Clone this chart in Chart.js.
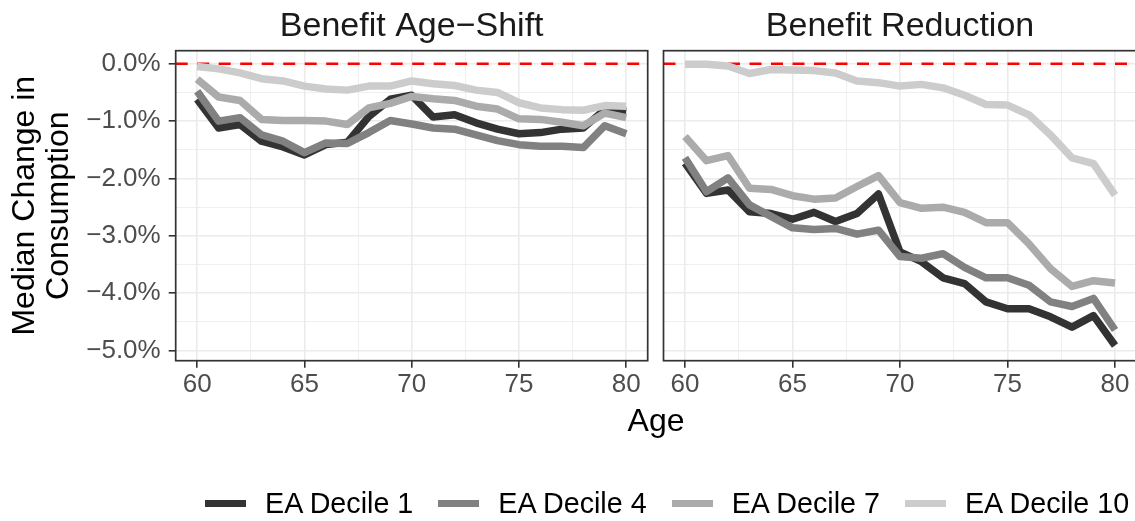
<!DOCTYPE html>
<html>
<head>
<meta charset="utf-8">
<script src="https://cdn.jsdelivr.net/npm/chart.js@4.4.0/dist/chart.umd.min.js"></script>
<style>
  html, body { margin: 0; padding: 0; background: #fff; }
  body { width: 1135px; height: 521px; overflow: hidden; position: relative;
         font-family: "Liberation Sans", Arial, sans-serif; }
  canvas { position: absolute; top: 0; left: 0; }
  #age { position: absolute; left: 0; width: 1312px; top: 404px; text-align: center;
         font-size: 32px; line-height: 1; color: #000; }
  #legend { position: absolute; left: 205px; top: 489px; display: flex; align-items: center;
            font-size: 28.7px; line-height: 1; color: #000; white-space: nowrap; }
  .item { display: flex; align-items: center; margin-right: 25px; }
  .swatch { width: 41px; height: 7.5px; margin-right: 19px; }
</style>
</head>
<body>
<canvas id="shift" width="1135" height="521"></canvas>
<canvas id="reduction" width="1140" height="521"></canvas>
<div id="age">Age</div>
<div id="legend"></div>
<script>
// Ages on the horizontal axis
const ages = [60, 61, 62, 63, 64, 65, 66, 67, 68, 69, 70, 71, 72, 73, 74, 75, 76, 77, 78, 79, 80];

// Median change in consumption (%), benefit age-shift scenario
const shiftD1  = [-0.62, -1.12, -1.06, -1.35, -1.45, -1.59, -1.41, -1.37, -0.92, -0.62, -0.55, -0.93, -0.89, -1.03, -1.14, -1.22, -1.20, -1.14, -1.12, -0.80, -0.83];
const shiftD4  = [-0.48, -1.00, -0.94, -1.24, -1.35, -1.55, -1.38, -1.39, -1.20, -0.99, -1.05, -1.12, -1.14, -1.24, -1.34, -1.41, -1.44, -1.44, -1.46, -1.08, -1.22];
const shiftD7  = [-0.27, -0.58, -0.64, -0.97, -0.99, -0.99, -1.00, -1.06, -0.77, -0.69, -0.57, -0.61, -0.64, -0.74, -0.79, -0.96, -0.97, -1.02, -1.08, -0.86, -0.94];
const shiftD10 = [-0.05, -0.09, -0.16, -0.26, -0.30, -0.39, -0.44, -0.46, -0.39, -0.39, -0.30, -0.35, -0.38, -0.46, -0.50, -0.68, -0.77, -0.80, -0.81, -0.73, -0.74];

// Median change in consumption (%), benefit reduction scenario
const reductD1  = [-1.73, -2.26, -2.20, -2.58, -2.61, -2.71, -2.59, -2.75, -2.61, -2.27, -3.28, -3.45, -3.73, -3.83, -4.15, -4.27, -4.27, -4.41, -4.59, -4.39, -4.91];
const reductD4  = [-1.64, -2.23, -1.99, -2.46, -2.66, -2.86, -2.89, -2.87, -2.97, -2.90, -3.36, -3.39, -3.31, -3.55, -3.73, -3.73, -3.86, -4.15, -4.23, -4.09, -4.64];
const reductD7  = [-1.27, -1.69, -1.60, -2.17, -2.19, -2.30, -2.36, -2.34, -2.14, -1.95, -2.42, -2.52, -2.50, -2.59, -2.77, -2.77, -3.14, -3.57, -3.88, -3.78, -3.82];
const reductD10 = [-0.01, -0.01, -0.04, -0.17, -0.10, -0.11, -0.12, -0.16, -0.30, -0.33, -0.39, -0.36, -0.42, -0.55, -0.71, -0.72, -0.89, -1.24, -1.64, -1.74, -2.29];

// Series names and grey ramp
const decileLabels = ['EA Decile 1', 'EA Decile 4', 'EA Decile 7', 'EA Decile 10'];
const decileColors = ['#333333', '#818181', '#ababab', '#cccccc'];

// Tick labels
const ageTicks = [60, 65, 70, 75, 80];
const pctTicks = [0, -1, -2, -3, -4, -5];

// Reference level (no change)
const refLevel = 0;

const X_MIN = 59, X_MAX = 81;
const Y_MIN = -5.175, Y_MAX = 0.227;

Chart.defaults.font.family = "'Liberation Sans', Arial, sans-serif";

const near = (a, b) => Math.abs(a - b) < 1e-6;
const isMajor = (list, v) => list.some(t => near(t, v));
const withMinors = list => {
  const out = [];
  const s = [...list].sort((a, b) => a - b);
  s.forEach((v, i) => { out.push(v); if (i < s.length - 1) out.push((v + s[i + 1]) / 2); });
  return out;
};
const fmtPct = v => (v < -1e-9 ? '\u2212' : '') + Math.abs(v).toFixed(1) + '%';

// Panel frame drawn over the plotted lines
const framePlugin = {
  id: 'frame',
  afterDatasetsDraw(chart) {
    const a = chart.chartArea, ctx = chart.ctx;
    ctx.save();
    ctx.strokeStyle = '#333333';
    ctx.lineWidth = 1.7;
    ctx.strokeRect(a.left, a.top, a.right - a.left, a.bottom - a.top);
    ctx.restore();
  }
};

function makeDatasets(series) {
  const sets = series.map((vals, i) => ({
    label: decileLabels[i],
    data: ages.map((a, j) => ({ x: a, y: vals[j] })),
    borderColor: decileColors[i],
    backgroundColor: decileColors[i],
    borderWidth: 7.5,
    borderCapStyle: 'butt',
    borderJoinStyle: 'round',
    pointRadius: 0,
    tension: 0,
    fill: false,
    order: series.length - i
  }));
  sets.push({
    label: 'reference',
    data: [{ x: X_MIN, y: refLevel }, { x: X_MAX, y: refLevel }],
    borderColor: '#ff0000',
    borderWidth: 2.6,
    borderDash: [12, 9.5],
    borderCapStyle: 'butt',
    pointRadius: 0,
    fill: false,
    order: 10
  });
  return sets;
}

function makeChart(id, title, series, withYAxis, canvasW, plotLeft, plotRight) {
  const plotTop = 50.7, plotBottom = 360.7, xAxisH = 40;
  const titleSize = 34, titleTopPad = 6;
  return new Chart(document.getElementById(id), {
    type: 'line',
    data: { datasets: makeDatasets(series) },
    plugins: [framePlugin],
    options: {
      responsive: false,
      animation: false,
      events: [],
      layout: { padding: { left: 0, top: 0, right: canvasW - plotRight, bottom: 521 - plotBottom - xAxisH } },
      plugins: {
        legend: { display: false },
        tooltip: { enabled: false },
        title: {
          display: true,
          text: title,
          fullSize: false,
          color: '#1a1a1a',
          font: { size: titleSize, weight: 'normal', lineHeight: 1.2 },
          padding: { top: titleTopPad, bottom: plotTop - titleTopPad - titleSize * 1.2 }
        }
      },
      scales: {
        x: {
          type: 'linear',
          min: X_MIN, max: X_MAX,
          afterBuildTicks: s => { s.ticks = withMinors(ageTicks).map(v => ({ value: v })); },
          afterFit: s => { s.height = xAxisH; },
          border: { display: false },
          grid: {
            color: '#ebebeb',
            lineWidth: c => isMajor(ageTicks, c.tick.value) ? 1.6 : 0.8,
            drawTicks: true,
            tickLength: 7,
            tickWidth: 1.6,
            tickColor: c => isMajor(ageTicks, c.tick.value) ? '#333333' : 'rgba(0,0,0,0)'
          },
          ticks: {
            autoSkip: false,
            maxRotation: 0,
            padding: 2,
            color: '#4d4d4d',
            font: { size: 26 },
            callback: v => isMajor(ageTicks, v) ? String(v) : ''
          }
        },
        y: {
          type: 'linear',
          min: Y_MIN, max: Y_MAX,
          afterBuildTicks: s => { s.ticks = withMinors(pctTicks).map(v => ({ value: v })); },
          afterFit: s => { s.width = plotLeft; },
          border: { display: false },
          grid: {
            color: '#ebebeb',
            lineWidth: c => isMajor(pctTicks, c.tick.value) ? 1.6 : 0.8,
            drawTicks: withYAxis,
            tickLength: 7,
            tickWidth: 1.6,
            tickColor: c => isMajor(pctTicks, c.tick.value) ? '#333333' : 'rgba(0,0,0,0)'
          },
          ticks: {
            display: withYAxis,
            autoSkip: false,
            padding: 8,
            color: '#4d4d4d',
            font: { size: 26 },
            callback: v => isMajor(pctTicks, v) ? fmtPct(v) : ''
          },
          title: {
            display: withYAxis,
            text: ['Median Change in', 'Consumption'],
            color: '#000000',
            font: { size: 32, lineHeight: 34 / 32 },
            padding: { top: 8, bottom: 0 }
          }
        }
      }
    }
  });
}

makeChart('shift', 'Benefit Age\u2212Shift', [shiftD1, shiftD4, shiftD7, shiftD10], true, 1135, 175.7, 647.7);
makeChart('reduction', 'Benefit Reduction', [reductD1, reductD4, reductD7, reductD10], false, 1140, 663.5, 1136.5);

// Legend built from the series names and colours
const legend = document.getElementById('legend');
decileLabels.forEach((lab, i) => {
  const item = document.createElement('div');
  item.className = 'item';
  const sw = document.createElement('div');
  sw.className = 'swatch';
  sw.style.background = decileColors[i];
  const tx = document.createElement('span');
  tx.textContent = lab;
  item.appendChild(sw);
  item.appendChild(tx);
  legend.appendChild(item);
});
</script>
</body>
</html>
